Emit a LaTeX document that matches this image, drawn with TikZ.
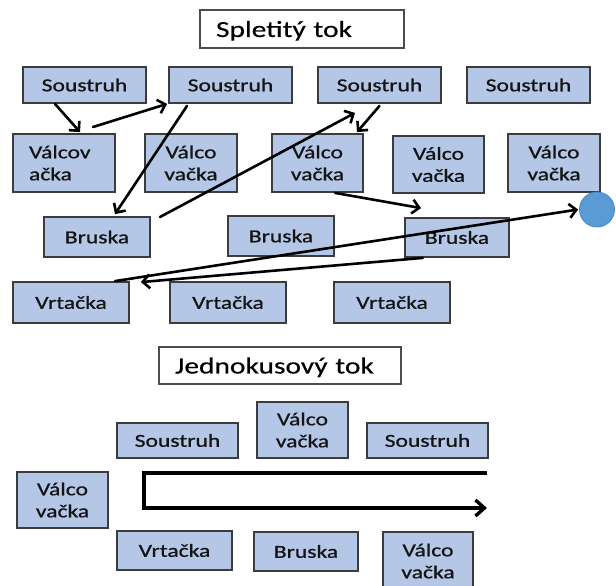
\documentclass[tikz,border=0pt]{standalone}
\usepackage{fontspec}
\setmainfont{Carlito}[FakeStretch=1.28,FakeBold=0.4]
\newfontfamily\stationfont{Carlito}[FakeStretch=1.29,FakeBold=0.9]
\usetikzlibrary{arrows.meta}
\definecolor{boxfill}{HTML}{B4C7E7}
\definecolor{boxline}{HTML}{3C3C3C}
\definecolor{dotfill}{HTML}{5B9BD5}
\definecolor{dotline}{HTML}{4A86BF}
\begin{document}
\begin{tikzpicture}[x=1pt,y=-1pt,
  station/.style={draw=boxline, line width=1.8pt, fill=boxfill, inner sep=0pt,
    font=\stationfont\fontsize{18.3}{22}\selectfont, text=black!92, align=center},
  heading/.style={draw=black!70, line width=1.6pt, fill=white, inner xsep=16pt,
    inner ysep=0pt, text depth=0pt, font=\fontsize{23}{27}\selectfont, align=left},
  flow/.style={line width=2.6pt, line cap=round,
    -{Straight Barb[length=7pt,width=14pt,line width=2.6pt]}},
  bigflow/.style={line width=3.4pt,
    -{Straight Barb[length=9pt,width=16pt,line width=3.4pt]}},
]
\clip (0,0) rectangle (616,586);
\fill[white] (0,0) rectangle (616,586);

% ---------- tangled flow ----------
\node[heading, minimum width=204pt, minimum height=38pt, text width=172pt] (T1) at (302,29) {Spletitý tok};

\node[station, minimum width=123pt, minimum height=36pt] (S1) at (84.5,85)  {Soustruh};
\node[station, minimum width=123pt, minimum height=36pt] (S2) at (230.5,85) {Soustruh};
\node[station, minimum width=123pt, minimum height=36pt] (S3) at (379.5,85) {Soustruh};
\node[station, minimum width=123pt, minimum height=36pt] (S4) at (528.5,85) {Soustruh};

\node[station, minimum height=58pt, text width=70pt, inner xsep=16pt, align=left] (V1) at (64,163) {Válcov\\ačka};
\node[station, minimum width=92pt, minimum height=58pt] (V2) at (191,163)   {Válco\\vačka};
\node[station, minimum width=91pt, minimum height=58pt] (V3) at (317.5,163) {Válco\\vačka};
\node[station, minimum width=91pt, minimum height=57pt] (V4) at (438.5,164.5) {Válco\\vačka};
\node[station, minimum width=92pt, minimum height=58pt] (V5) at (554,163)   {Válco\\vačka};

\node[station, minimum width=106pt, minimum height=40pt] (B1) at (97,237)    {Bruska};
\node[station, minimum width=106pt, minimum height=40pt] (B2) at (281,236)   {Bruska};
\node[station, minimum width=104pt, minimum height=39pt] (B3) at (457,237.5) {Bruska};

\node[station, minimum width=116pt, minimum height=41pt] (R1) at (71,302.5)  {Vrtačka};
\node[station, minimum width=116pt, minimum height=41pt] (R2) at (228,302.5) {Vrtačka};
\node[station, minimum width=116pt, minimum height=41pt] (R3) at (392,302.5) {Vrtačka};

\node[circle, fill=dotfill, draw=dotline, line width=0.8pt, minimum size=35pt, inner sep=0pt] (end) at (597,209.5) {};

\coordinate (v1out) at (93,127);
\coordinate (b1out) at (160,217);

\draw[flow] ([xshift=-29.5pt]S1.south) -- ([xshift=16pt,yshift=1pt]V1.north);
\draw[flow] (v1out) -- ([xshift=-1pt]S2.south west);
\draw[flow] ([xshift=-43.5pt,yshift=-2pt]S2.south) -- ([xshift=18pt,yshift=2pt]B1.north);
\draw[flow] (b1out) -- ([xshift=-24.5pt,yshift=-9pt]S3.south);
\draw[flow] ([yshift=-2pt]S3.south) -- ([xshift=39.5pt,yshift=1pt]V3.north);
\draw[flow] ([xshift=17.5pt]V3.south) -- ([xshift=-36pt,yshift=9pt]B3.north);
\draw[flow] ([xshift=44pt]R1.north) -- ([xshift=-1pt]end.west);
\draw[flow] ([xshift=-34pt]B3.south) -- ([xshift=11pt,yshift=-1pt]R1.north east);

% ---------- one-piece flow ----------
\node[heading, minimum width=242pt, minimum height=37pt, text width=210pt] (T2) at (280,365.5) {Jednokusový tok};

\node[station, minimum width=121pt, minimum height=35pt] (S5) at (177.5,440.5) {Soustruh};
\node[station, minimum width=91pt,  minimum height=56pt] (V7) at (302.5,430)   {Válco\\vačka};
\node[station, minimum width=121pt, minimum height=35pt] (S6) at (427.5,440.5) {Soustruh};
\node[station, minimum width=91pt,  minimum height=56pt] (V6) at (62.5,500)    {Válco\\vačka};
\node[station, minimum width=115pt, minimum height=39pt] (R4) at (174.5,550.5) {Vrtačka};
\node[station, minimum width=104pt, minimum height=39pt] (B4) at (306,551.5)   {Bruska};
\node[station, minimum width=90pt,  minimum height=58pt] (V8) at (428,561)     {Válco\\vačka};

\coordinate (fa) at (487,473);
\coordinate (fb) at (144,473);
\coordinate (fd) at (487,508);
\draw[bigflow] (fa) -- (fb) |- (fd);
\end{tikzpicture}
\end{document}
